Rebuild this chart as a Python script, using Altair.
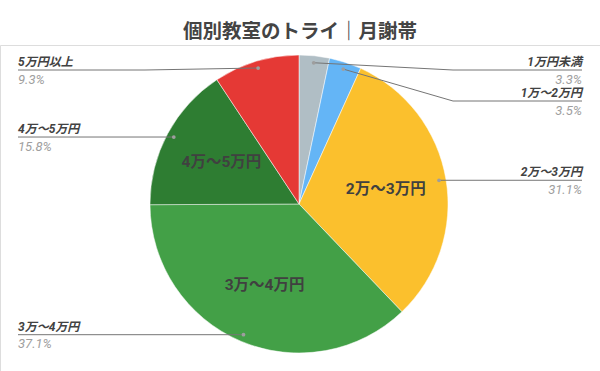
import math
import altair as alt
import pandas as pd

# ---- data ----
categories = ["1万円未満", "1万〜2万円", "2万〜3万円", "3万〜4万円", "4万〜5万円", "5万円以上"]
values = [3.3, 3.5, 31.1, 37.1, 15.8, 9.3]
colors = ["#B0BEC5", "#64B5F6", "#FBC02D", "#43A047", "#2E7D32", "#E53935"]
title_text = "個別教室のトライ｜月謝帯"

# ---- layout constants ----
W, H = 600, 326
PAD_TOP = 45
X_DOM = [-299, 301]
Y_DOM = [-159, 167]
R = 149
R_DOT = 142
R_IN = 88
ELBOW = 154
END_RIGHT = 283
END_LEFT = -281
MIN_Y = -134
GAP = 31
FONT = "Roboto, 'Noto Sans CJK JP', sans-serif"
TITLE_FONT = "'Noto Sans CJK JP', sans-serif"

total = sum(values)
rows = []
cum = 0.0
for i, (c, v) in enumerate(zip(categories, values)):
    mid = (cum + v / 2) / total * 2 * math.pi
    cum += v
    rows.append(dict(idx=i, cat=c, value=v, pct=f"{v:.1f}%",
                     mx=R_DOT * math.sin(mid), my=-R_DOT * math.cos(mid),
                     ix=R_IN * math.sin(mid), iy=-R_IN * math.cos(mid),
                     side="right" if math.sin(mid) >= 0 else "left"))
df = pd.DataFrame(rows)

# label placement with simple collision avoidance per side
df["ly"] = df["my"]
for side in ["right", "left"]:
    sub = df[df["side"] == side].sort_values("my")
    prev = None
    for k in sub.index:
        y = max(df.at[k, "my"], MIN_Y)
        if prev is not None:
            y = max(y, prev + GAP)
        df.at[k, "ly"] = y
        prev = y
df["ex"] = [END_RIGHT if s == "right" else END_LEFT for s in df["side"]]

lines = []
for _, r in df.iterrows():
    sgn = 1 if r["side"] == "right" else -1
    lines.append(dict(cat=r["cat"], seq=0, x=r["mx"], y=r["my"]))
    lines.append(dict(cat=r["cat"], seq=1, x=sgn * ELBOW, y=r["ly"]))
    lines.append(dict(cat=r["cat"], seq=2, x=r["ex"], y=r["ly"]))
df_lines = pd.DataFrame(lines)

xs = alt.Scale(domain=X_DOM, nice=False, zero=False)
ys = alt.Scale(domain=Y_DOM, nice=False, zero=False, reverse=True)

cx_px = W * (0 - X_DOM[0]) / (X_DOM[1] - X_DOM[0])
cy_px = H * (0 - Y_DOM[0]) / (Y_DOM[1] - Y_DOM[0])

pie = alt.Chart(df).mark_arc(outerRadius=R, stroke="white", strokeWidth=0.5).encode(
    theta=alt.Theta("value:Q", stack=True),
    color=alt.Color("cat:N", scale=alt.Scale(domain=categories, range=colors), legend=None),
    order=alt.Order("idx:Q"),
    x=alt.value(cx_px),
    y=alt.value(cy_px),
)

inner = alt.Chart(df).transform_filter("datum.value >= 15").mark_text(
    font=FONT, fontSize=15.5, fontWeight="bold", color="#404040", baseline="middle", align="center"
).encode(
    x=alt.X("ix:Q", scale=xs, axis=None),
    y=alt.Y("iy:Q", scale=ys, axis=None),
    text="cat:N",
)

leader = alt.Chart(df_lines).mark_line(color="#757575", strokeWidth=1).encode(
    x=alt.X("x:Q", scale=xs, axis=None),
    y=alt.Y("y:Q", scale=ys, axis=None),
    detail="cat:N",
    order="seq:Q",
)

dots = alt.Chart(df).mark_circle(size=14, color="#9E9E9E", opacity=1).encode(
    x=alt.X("mx:Q", scale=xs, axis=None),
    y=alt.Y("my:Q", scale=ys, axis=None),
)

def side_labels(side, align):
    base = alt.Chart(df).transform_filter(f"datum.side == '{side}'")
    name = base.mark_text(font=FONT, fontSize=12, fontWeight="bold", fontStyle="italic",
                          color="#424242", align=align, baseline="alphabetic", dy=-4).encode(
        x=alt.X("ex:Q", scale=xs, axis=None),
        y=alt.Y("ly:Q", scale=ys, axis=None),
        text="cat:N",
    )
    pct = base.mark_text(font=FONT, fontSize=13, fontStyle="italic",
                         color="#9E9E9E", align=align, baseline="alphabetic", dy=13.5).encode(
        x=alt.X("ex:Q", scale=xs, axis=None),
        y=alt.Y("ly:Q", scale=ys, axis=None),
        text="pct:N",
    )
    return name + pct

chart = alt.layer(
    pie, inner, leader, dots, side_labels("right", "right"), side_labels("left", "left")
).properties(
    width=W, height=H,
    autosize=alt.AutoSizeParams(type="none"),
    padding={"top": PAD_TOP, "left": 0, "right": 0, "bottom": 0},
    title=alt.TitleParams(title_text, font=TITLE_FONT, fontSize=19.5, fontWeight="bold",
                          color="#444444", anchor="middle", offset=3),
).configure_view(strokeWidth=0).configure(background="white")

chart.save("out.html", embed_options={"renderer": "svg", "actions": False})
